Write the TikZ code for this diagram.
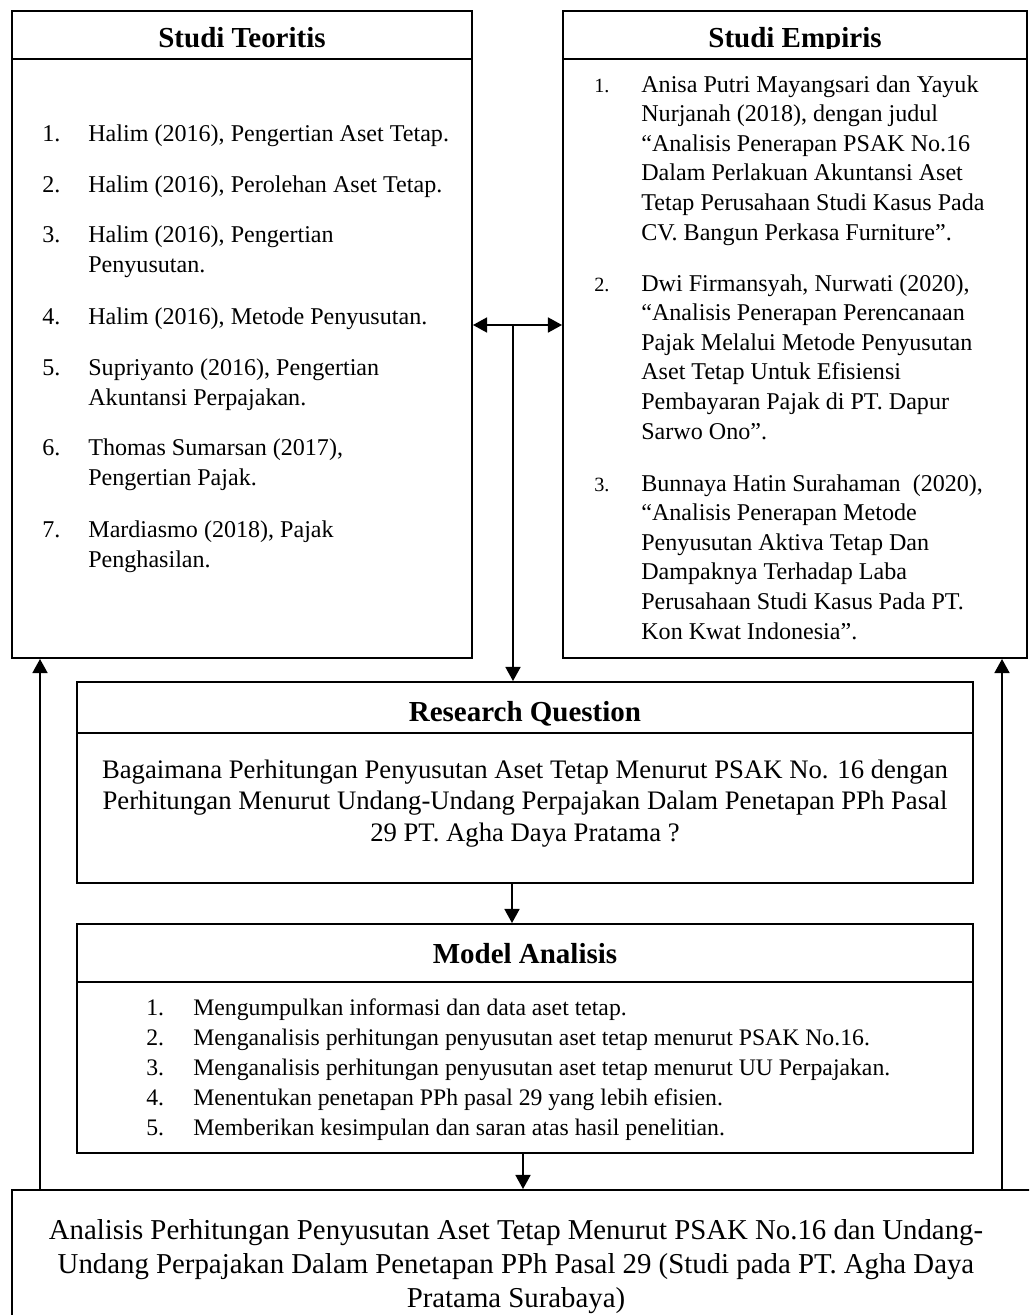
\documentclass[tikz,border=0pt]{standalone}
\usepackage{fontspec}
\setmainfont{Liberation Serif}
\usetikzlibrary{arrows.meta,fit}

% multi-line nodes sit on the baseline of their last line
\tikzset{
	panel/.style={draw, line width=1.1pt, inner sep=0pt},
	rule/.style={line width=1.1pt},
	ttl/.style={anchor=base, inner sep=0pt, font=\bfseries\fontsize{16.5}{20}\selectfont},
	num/.style={anchor=base west, inner sep=0pt, font=\fontsize{13.7}{17}\selectfont},
	txt/.style={anchor=base west, inner sep=0pt, align=left, font=\fontsize{13.7}{17}\selectfont},
	arr/.style={-{Triangle[length=8pt,width=8.5pt]}, line width=1.1pt},
}

\begin{document}
\begin{tikzpicture}[x=0.02cm, y=-0.02cm]

\useasboundingbox (0,0) rectangle (1029,1315);
\clip (0,0) rectangle (1029,1315);

% panels
\node[panel, fit={(12,11) (472,658)}] (teori) {};
\node[panel, fit={(563,11) (1027,658)}] (empiris) {};
\node[panel, fit={(77,682) (973,883)}] (rq) {};
\node[panel, fit={(77,924) (973,1153)}] (model) {};
\node[panel, fit={(12,1190) (1045,1340)}] (hasil) {};

\draw[rule] (12,59) -- (472,59);
\draw[rule] (563,59) -- (1027,59);
\draw[rule] (77,733) -- (973,733);
\draw[rule] (77,982) -- (973,982);

% titles
\begin{scope}
	\clip (0,0) rectangle (1029,48);
	\node[ttl] (tteori) at (242,47) {Studi Teoritis};
	\node[ttl] (tempiris) at (795,47) {Studi Empiris};
\end{scope}
\node[ttl] (trq) at (525,721) {Research Question};
\node[ttl] (tmodel) at (525,963) {Model Analisis};

% studi teoritis
\foreach \n/\y/\z/\t in {
	1/141/141/{Halim (2016), Pengertian Aset Tetap.},
	2/192/192/{Halim (2016), Perolehan Aset Tetap.},
	3/242/272/{Halim (2016), Pengertian\\Penyusutan.},
	4/324/324/{Halim (2016), Metode Penyusutan.},
	5/375/405/{Supriyanto (2016), Pengertian\\Akuntansi Perpajakan.},
	6/455/485/{Thomas Sumarsan (2017),\\Pengertian Pajak.},
	7/537/567/{Mardiasmo (2018), Pajak\\Penghasilan.}}
{
	\node[num] (tn\n) at (42,\y) {\n.};
	\node[txt] (ti\n) at (88,\z) {\t};
}

% studi empiris
\foreach \n/\y/\t in {
	1/240/{Anisa Putri Mayangsari dan Yayuk\\Nurjanah (2018), dengan judul\\“Analisis Penerapan PSAK No.16\\Dalam Perlakuan Akuntansi Aset\\Tetap Perusahaan Studi Kasus Pada\\CV. Bangun Perkasa Furniture”.},
	2/439/{Dwi Firmansyah, Nurwati (2020),\\“Analisis Penerapan Perencanaan\\Pajak Melalui Metode Penyusutan\\Aset Tetap Untuk Efisiensi\\Pembayaran Pajak di PT. Dapur\\Sarwo Ono”.},
	3/639/{Bunnaya Hatin Surahaman\ \ (2020),\\“Analisis Penerapan Metode\\Penyusutan Aktiva Tetap Dan\\Dampaknya Terhadap Laba\\Perusahaan Studi Kasus Pada PT.\\Kon Kwat Indonesia”.}}
{
	\node[txt, font=\fontsize{13.7}{16.8}\selectfont] (ei\n) at (641,\y) {\t};
	\node[num, font=\fontsize{11.5}{14}\selectfont] (en\n) at (594,\y-148) {\n.};
}

% research question
\node[anchor=base, inner sep=0pt, align=center, font=\fontsize{15.2}{17.9}\selectfont] (qtext) at (525,841)
	{Bagaimana Perhitungan Penyusutan Aset Tetap Menurut PSAK No. 16 dengan\\Perhitungan Menurut Undang-Undang Perpajakan Dalam Penetapan PPh Pasal\\29 PT. Agha Daya Pratama ?};

% model analisis
\foreach \n/\y/\t in {
	1/1015/{Mengumpulkan informasi dan data aset tetap.},
	2/1045/{Menganalisis perhitungan penyusutan aset tetap menurut PSAK No.16.},
	3/1075/{Menganalisis perhitungan penyusutan aset tetap menurut UU Perpajakan.},
	4/1105/{Menentukan penetapan PPh pasal 29 yang lebih efisien.},
	5/1135/{Memberikan kesimpulan dan saran atas hasil penelitian.}}
{
	\node[num, font=\fontsize{13.5}{17}\selectfont] (mn\n) at (146,\y) {\n.};
	\node[txt, font=\fontsize{13.5}{17}\selectfont] (mi\n) at (193,\y) {\t};
}

% hasil
\node[anchor=base, inner sep=0pt, align=center, font=\fontsize{16.4}{19.3}\selectfont] (htext) at (516,1307)
	{Analisis Perhitungan Penyusutan Aset Tetap Menurut PSAK No.16 dan Undang-\\Undang Perpajakan Dalam Penetapan PPh Pasal 29 (Studi pada PT. Agha Daya\\Pratama Surabaya)};

% connectors
\coordinate (hub) at (513,325);
\coordinate (lft) at (40,0);
\coordinate (rgt) at (1002,0);
\coordinate (mo) at ([xshift=-0.04cm]model.south);
\draw[arr] (hub) -- (teori.east |- hub);
\draw[arr] (hub) -- (empiris.west |- hub);
\draw[arr] (hub) -- (rq.north -| hub);
\draw[arr] ([xshift=-0.26cm]rq.south) -- ([xshift=-0.26cm]model.north);
\draw[arr] (mo) -- (mo |- hasil.north);
\draw[arr] (hasil.north -| lft) -- (teori.south -| lft);
\draw[arr] (hasil.north -| rgt) -- (empiris.south -| rgt);

\end{tikzpicture}
\end{document}
